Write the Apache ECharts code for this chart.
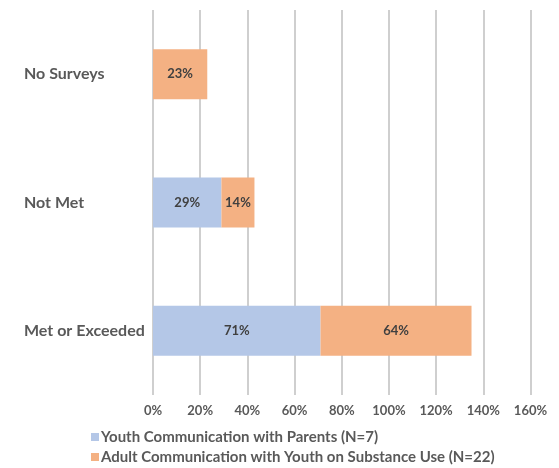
<!DOCTYPE html>
<html>
<head>
<meta charset="utf-8">
<script src="https://cdn.jsdelivr.net/npm/echarts@6/dist/echarts.min.js"></script>
<style>html,body{margin:0;padding:0;background:#fff;}#c{width:559px;height:468px;}</style>
</head>
<body>
<div id="c"></div>
<script>
const categories = ['Met or Exceeded', 'Not Met', 'No Surveys'];
const youthParents = [71, 29, null];
const adultYouth = [64, 14, 23];
const seriesNames = ['Youth Communication with Parents (N=7)', 'Adult Communication with Youth on Substance Use (N=22)'];
const xTicks = [0, 20, 40, 60, 80, 100, 120, 140, 160];

const FONT = 'Lato, "Open Sans", sans-serif';
const chart = echarts.init(document.getElementById('c'), null, {renderer: 'canvas'});
const labelStyle = {
  show: true, position: 'inside', formatter: p => p.value + '%',
  color: '#404040', fontWeight: 'bold', fontSize: 13, fontFamily: FONT
};
chart.setOption({
  animation: false,
  backgroundColor: '#fff',
  grid: {left: 153, right: 28.5, top: 10, height: 385, containLabel: false},
  xAxis: {
    type: 'value', min: xTicks[0], max: xTicks[xTicks.length - 1], interval: 20,
    axisLine: {show: false}, axisTick: {show: false},
    splitLine: {show: true, lineStyle: {color: '#BFBFBF', width: 1.5}},
    axisLabel: {formatter: v => v + '%', color: '#595959', fontWeight: 'bold', fontSize: 13, fontFamily: FONT, margin: 9}
  },
  yAxis: {
    type: 'category', data: categories,
    axisLine: {show: false}, axisTick: {show: false},
    axisLabel: {align: 'left', margin: 129, color: '#595959', fontWeight: 'bold', fontSize: 16, fontFamily: FONT}
  },
  legend: {
    orient: 'vertical', left: 91, top: 429, height: 40, padding: 0, itemWidth: 8, itemHeight: 8, itemGap: 4,
    icon: 'rect',
    textStyle: {color: '#595959', fontWeight: 'bold', fontSize: 15, fontFamily: FONT, padding: [0, 0, 0, -3], lineHeight: 16},
    data: seriesNames
  },
  series: [
    {name: seriesNames[0], type: 'bar', stack: 's', data: youthParents, barWidth: '39%',
     itemStyle: {color: '#B4C7E7'}, label: labelStyle},
    {name: seriesNames[1], type: 'bar', stack: 's', data: adultYouth, barWidth: '39%',
     itemStyle: {color: '#F4B183'}, label: labelStyle}
  ]
});
</script>
</body>
</html>
